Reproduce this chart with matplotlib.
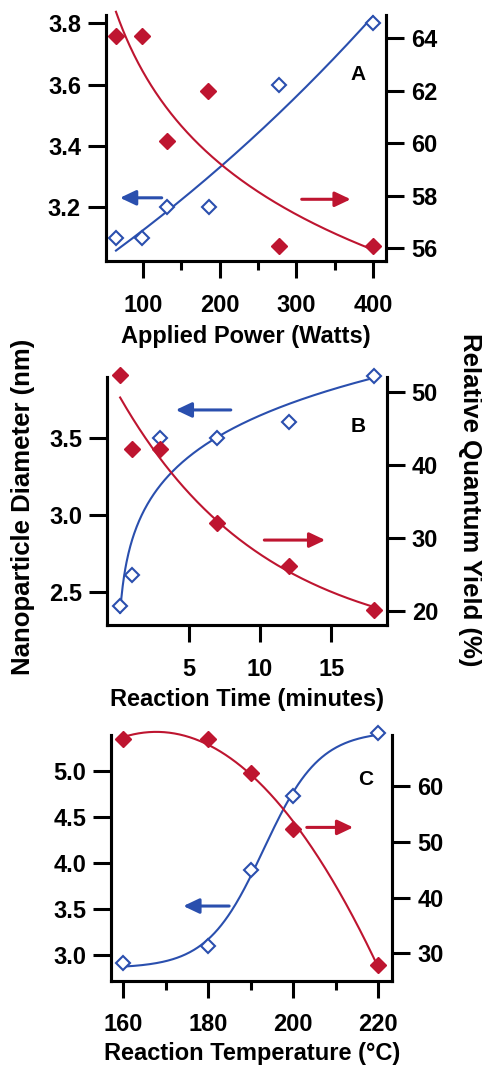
import numpy as np
import matplotlib
matplotlib.use("Agg")
import matplotlib.pyplot as plt
from matplotlib.ticker import FixedLocator, FormatStrFormatter

plt.rcParams['font.family'] = ['Liberation Sans', 'DejaVu Sans']
plt.rcParams['font.weight'] = 'bold'

BLUE = '#2a4fae'
RED = '#be1530'

# ---------------- data ----------------
# Panel A: applied power
power_w = [65, 99, 132, 186, 278, 400]
power_diam = [3.10, 3.10, 3.20, 3.20, 3.60, 3.80]
power_qy_x = [65, 99, 131, 185, 278, 400]
power_qy = [64.1, 64.1, 60.1, 62.0, 56.1, 56.1]

# Panel B: reaction time
time_min = [0.2, 1, 3, 7, 12, 18]
time_diam = [2.41, 2.61, 3.50, 3.50, 3.60, 3.90]
time_qy = [52.3, 42.1, 42.2, 32.1, 26.1, 20.1]

# Panel C: reaction temperature
temp_c = [160, 180, 190, 200, 220]
temp_diam = [2.91, 3.10, 3.92, 4.72, 5.41]
temp_qy = [68.4, 68.4, 62.3, 52.3, 27.9]

# tick labels
A_xticks = [100, 200, 300, 400]
A_xminor = [150, 250, 350]
A_lticks = [3.2, 3.4, 3.6, 3.8]
A_rticks = [56, 58, 60, 62, 64]
B_xticks = [5, 10, 15]
B_lticks = [2.5, 3.0, 3.5]
B_rticks = [20, 30, 40, 50]
C_xticks = [160, 180, 200, 220]
C_xminor = [170, 190, 210]
C_lticks = [3.0, 3.5, 4.0, 4.5, 5.0]
C_rticks = [30, 40, 50, 60]


# ---------------- fitting helpers (fits derived from the data) ----------------
def fit_exp(x, y, sign, taus):
    x = np.asarray(x, float); y = np.asarray(y, float)
    best = None
    for t in taus:
        e = np.exp(sign * x / t)
        M = np.vstack([np.ones_like(x), e]).T
        coef = np.linalg.lstsq(M, y, rcond=None)[0]
        r = np.sum((M @ coef - y) ** 2)
        if best is None or r < best[0]:
            best = (r, t, coef)
    _, t, (c, a) = best
    return lambda xx: c + a * np.exp(sign * xx / t)


def fit_power(x, y):
    p = np.polyfit(np.log(x), np.log(y), 1)
    return lambda xx: np.exp(p[1]) * xx ** p[0]


def fit_sigmoid(x, y, x0s, ws):
    x = np.asarray(x, float); y = np.asarray(y, float)
    best = None
    for x0 in x0s:
        for w in ws:
            s = 1.0 / (1.0 + np.exp((x0 - x) / w))
            M = np.vstack([np.ones_like(x), s]).T
            coef = np.linalg.lstsq(M, y, rcond=None)[0]
            r = np.sum((M @ coef - y) ** 2)
            if best is None or r < best[0]:
                best = (r, x0, w, coef)
    _, x0, w, (b, a) = best
    return lambda xx: b + a / (1.0 + np.exp((x0 - xx) / w))


# ---------------- figure ----------------
fig = plt.figure(figsize=(4.82, 10.68), dpi=100)

TICK_FS = 17
LAB_FS = 17
LW_SPINE = 2.2


def style(ax, ax2):
    for a in (ax, ax2):
        a.spines['top'].set_visible(False)
        for s in ('left', 'right', 'bottom'):
            a.spines[s].set_linewidth(LW_SPINE)
        a.set_facecolor('none')
    ax.tick_params(axis='y', which='major', direction='out', length=13, width=LW_SPINE,
                   labelsize=TICK_FS, pad=5)
    ax2.tick_params(axis='y', which='major', direction='out', length=13, width=LW_SPINE,
                    labelsize=TICK_FS, pad=5)
    ax.tick_params(axis='x', which='major', direction='out', length=12.5, width=LW_SPINE,
                   labelsize=TICK_FS, pad=11)
    ax.tick_params(axis='x', which='minor', direction='out', length=6.5, width=LW_SPINE)
    for lab in ax.get_xticklabels() + ax.get_yticklabels() + ax2.get_yticklabels():
        lab.set_fontweight('bold')


def arrow(ax, tail, head, color):
    ax.annotate('', xy=head, xytext=tail, xycoords='axes fraction', textcoords='axes fraction',
                arrowprops=dict(arrowstyle='-|>,head_length=0.95,head_width=0.45',
                                mutation_scale=10, color=color, lw=2.2,
                                shrinkA=0, shrinkB=0))


def curve(ax, x, y, color):
    ax.plot(x, y, color=color, lw=1.5, clip_on=False)


def markers(ax, x, y, color, filled):
    if filled:
        ax.plot(x, y, 'D', ms=8.0, mfc=color, mec=color, mew=1, ls='none',
                clip_on=False, zorder=5)
    else:
        ax.plot(x, y, 'D', ms=7.0, mfc='white', mec=color, mew=1.5, ls='none',
                clip_on=False, zorder=5)


# ---- Panel A ----
axA = fig.add_axes([0.2199, 0.7556, 0.5809, 0.2303])
axA2 = axA.twinx()
xx = np.linspace(65, 400, 300)
fA_b = fit_exp(power_w, power_diam, +1, np.linspace(50, 2000, 800))
fA_r = fit_power(power_qy_x, power_qy)
curve(axA, xx, fA_b(xx), BLUE)
curve(axA2, xx, fA_r(xx), RED)
markers(axA, power_w, power_diam, BLUE, False)
markers(axA2, power_qy_x, power_qy, RED, True)
axA.set_xlim(52, 417)
axA.set_ylim(3.025, 3.827)
axA2.set_ylim(55.52, 64.89)
axA.xaxis.set_major_locator(FixedLocator(A_xticks))
axA.xaxis.set_minor_locator(FixedLocator(A_xminor))
axA.yaxis.set_major_locator(FixedLocator(A_lticks))
axA.yaxis.set_major_formatter(FormatStrFormatter('%.1f'))
axA2.yaxis.set_major_locator(FixedLocator(A_rticks))
style(axA, axA2)
axA.set_xlabel('Applied Power (Watts)', fontsize=LAB_FS, fontweight='bold', labelpad=6)
axA.text(0.90, 0.76, 'A', transform=axA.transAxes, fontsize=15, fontweight='bold',
         ha='center', va='center')
arrow(axA, (0.199, 0.257), (0.05, 0.257), BLUE)
arrow(axA, (0.699, 0.251), (0.874, 0.251), RED)

# ---- Panel B ----
axB = fig.add_axes([0.2226, 0.4148, 0.5797, 0.2325])
axB2 = axB.twinx()
xx = np.linspace(0.2, 18, 400)
fB_b = fit_power(time_min, time_diam)
fB_r = fit_exp(time_min, time_qy, -1, np.linspace(1, 200, 800))
curve(axB, xx, fB_b(xx), BLUE)
curve(axB2, xx, fB_r(xx), RED)
markers(axB, time_min, time_diam, BLUE, False)
markers(axB2, time_min, time_qy, RED, True)
axB.set_xlim(-0.7, 18.88)
axB.set_ylim(2.289, 3.895)
axB2.set_ylim(18.08, 52.05)
axB.xaxis.set_major_locator(FixedLocator(B_xticks))
axB.yaxis.set_major_locator(FixedLocator(B_lticks))
axB.yaxis.set_major_formatter(FormatStrFormatter('%.1f'))
axB2.yaxis.set_major_locator(FixedLocator(B_rticks))
style(axB, axB2)
axB.set_xlabel('Reaction Time (minutes)', fontsize=LAB_FS, fontweight='bold', labelpad=5)
axB.text(0.898, 0.80, 'B', transform=axB.transAxes, fontsize=15, fontweight='bold',
         ha='center', va='center')
arrow(axB, (0.442, 0.866), (0.245, 0.866), BLUE)
arrow(axB, (0.562, 0.342), (0.78, 0.342), RED)

# ---- Panel C ----
axC = fig.add_axes([0.2303, 0.0817, 0.5836, 0.2301])
axC2 = axC.twinx()
xx = np.linspace(160, 220, 300)
fC_b = fit_sigmoid(temp_c, temp_diam, np.linspace(180, 210, 121), np.linspace(1, 20, 96))
pC_r = np.polyfit(temp_c, temp_qy, 2)
curve(axC, xx, fC_b(xx), BLUE)
curve(axC2, xx, np.polyval(pC_r, xx), RED)
markers(axC, temp_c, temp_diam, BLUE, False)
markers(axC2, temp_c, temp_qy, RED, True)
axC.set_xlim(157.1, 223.3)
axC.set_ylim(2.72, 5.387)
axC2.set_ylim(25.1, 69.14)
axC.xaxis.set_major_locator(FixedLocator(C_xticks))
axC.xaxis.set_minor_locator(FixedLocator(C_xminor))
axC.yaxis.set_major_locator(FixedLocator(C_lticks))
axC.yaxis.set_major_formatter(FormatStrFormatter('%.1f'))
axC2.yaxis.set_major_locator(FixedLocator(C_rticks))
style(axC, axC2)
axC.set_xlabel('Reaction Temperature (°C)', fontsize=LAB_FS, fontweight='bold', labelpad=4)
axC.text(0.906, 0.82, 'C', transform=axC.transAxes, fontsize=15, fontweight='bold',
         ha='center', va='center')
arrow(axC, (0.42, 0.304), (0.257, 0.304), BLUE)
arrow(axC, (0.696, 0.624), (0.861, 0.624), RED)

# ---- shared y labels ----
fig.text(23 / 482, 1 - 507 / 1068, 'Nanoparticle Diameter (nm)', rotation=90,
         ha='center', va='center', fontsize=18.5, fontweight='bold')
fig.text(470 / 482, 1 - 500 / 1068, 'Relative Quantum Yield (%)', rotation=-90,
         ha='center', va='center', fontsize=18.5, fontweight='bold')

fig.savefig('out.png', dpi=100)
